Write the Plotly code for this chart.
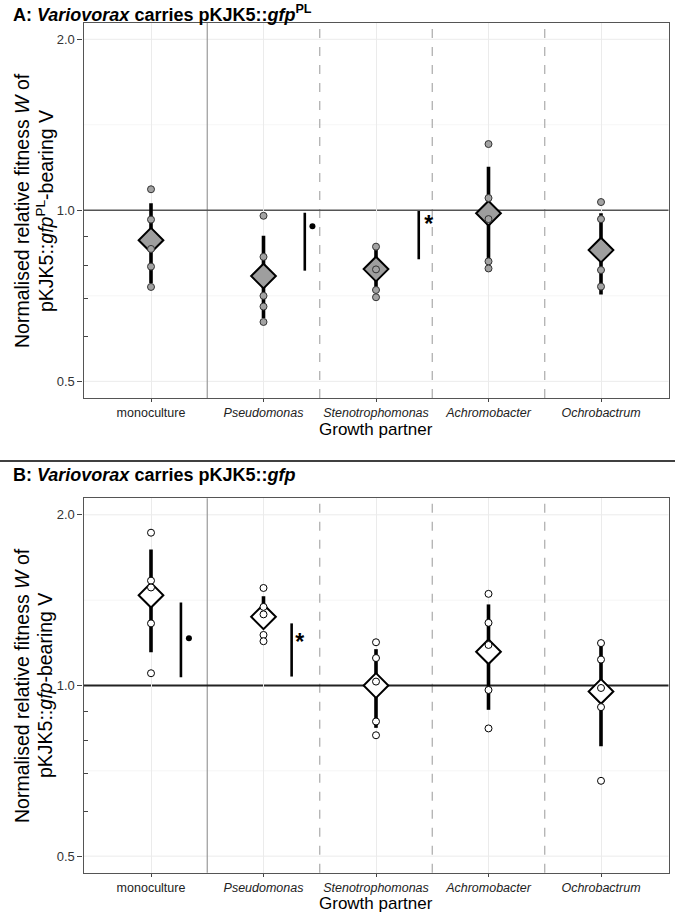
import plotly.graph_objects as go

# ---------------- data ----------------
categories = ["monoculture", "Pseudomonas", "Stenotrophomonas", "Achromobacter", "Ochrobactrum"]
tick_labels = ["monoculture", "<i>Pseudomonas</i>", "<i>Stenotrophomonas</i>", "<i>Achromobacter</i>", "<i>Ochrobactrum</i>"]

# Panel A: Variovorax carries pKJK5::gfpPL
a_reps = [
    [1.089, 0.963, 0.855, 0.796, 0.733],
    [0.978, 0.828, 0.707, 0.677, 0.636],
    [0.863, 0.787, 0.724, 0.703],
    [1.308, 1.051, 0.965, 0.813, 0.790],
    [1.034, 0.965, 0.785, 0.734],
]
a_mean = [0.886, 0.766, 0.788, 0.988, 0.851]
a_upper = [1.029, 0.902, 0.859, 1.193, 0.988]
a_lower = [0.744, 0.646, 0.724, 0.780, 0.711]
# significance brackets
a_sig_cat = [1, 2]
a_sig_low = [0.783, 0.820]
a_sig_high = [0.990, 0.997]
a_sig_mark = ["dot", "*"]
a_sig_mark_y = [0.937, 0.936]

# Panel B: Variovorax carries pKJK5::gfp
b_reps = [
    [1.860, 1.531, 1.489, 1.287, 1.051],
    [1.486, 1.376, 1.335, 1.228, 1.197],
    [1.192, 1.118, 1.016, 0.864, 0.817],
    [1.451, 1.290, 1.179, 0.982, 0.840],
    [1.188, 1.111, 0.990, 0.916, 0.679],
]
b_mean = [1.443, 1.322, 1.000, 1.147, 0.976]
b_upper = [1.738, 1.437, 1.159, 1.390, 1.188]
b_lower = [1.145, 1.269, 0.842, 0.906, 0.781]
b_sig_cat = [0, 1]
b_sig_low = [1.034, 1.037]
b_sig_high = [1.401, 1.287]
b_sig_mark = ["dot", "*"]
b_sig_mark_y = [1.211, 1.184]

y_tick_vals = [0.5, 1.0, 2.0]
y_tick_text = ["0.5", "1.0", "2.0"]
y_minor_ticks = [0.6, 0.7, 0.8, 0.9]
y_major_grid = [0.5, 2.0]
y_minor_grid = [0.7071, 1.4142]

# ---------------- layout helpers ----------------
W, H = 675, 918
FONT = "Liberation Sans, Arial, Helvetica, sans-serif"
x_pos = list(range(len(categories)))


def py(px):  # pixel from top -> paper fraction
    return 1 - px / H


def px_x(px):
    return px / W


fig = go.Figure()

panels = [
    dict(xa="x", ya="y", reps=a_reps, mean=a_mean, up=a_upper, lo=a_lower,
         sig_cat=a_sig_cat, sig_low=a_sig_low, sig_high=a_sig_high, sig_mark=a_sig_mark,
         sig_mark_y=a_sig_mark_y, fill="#a3a3a3", mfill="#9e9e9e", ptline="#333333",
         sig_off=[0.367, 0.38], mark_off=[0.435, 0.469]),
    dict(xa="x2", ya="y2", reps=b_reps, mean=b_mean, up=b_upper, lo=b_lower,
         sig_cat=b_sig_cat, sig_low=b_sig_low, sig_high=b_sig_high, sig_mark=b_sig_mark,
         sig_mark_y=b_sig_mark_y, fill="white", mfill="white", ptline="black",
         sig_off=[0.266, 0.25], mark_off=[0.337, 0.323]),
]

for p in panels:
    fig.add_trace(go.Scatter(
        x=x_pos, y=p["mean"], mode="markers", xaxis=p["xa"], yaxis=p["ya"],
        marker=dict(symbol="diamond", size=19, color=p["mfill"], line=dict(color="black", width=2)),
        error_y=dict(type="data", symmetric=False,
                     array=[u - m for u, m in zip(p["up"], p["mean"])],
                     arrayminus=[m - l for m, l in zip(p["mean"], p["lo"])],
                     thickness=3.6, width=0, color="black"),
        showlegend=False, hoverinfo="skip"))
    xs, ys = [], []
    for i, r in enumerate(p["reps"]):
        xs += [x_pos[i]] * len(r)
        ys += r
    fig.add_trace(go.Scatter(
        x=xs, y=ys, mode="markers", xaxis=p["xa"], yaxis=p["ya"],
        marker=dict(symbol="circle", size=7, color=p["fill"], line=dict(color=p["ptline"], width=1)),
        showlegend=False, hoverinfo="skip"))
    for k, c in enumerate(p["sig_cat"]):
        xx = x_pos[c] + p["sig_off"][k]
        fig.add_trace(go.Scatter(
            x=[xx, xx], y=[p["sig_low"][k], p["sig_high"][k]], mode="lines",
            xaxis=p["xa"], yaxis=p["ya"], line=dict(color="black", width=2.6),
            showlegend=False, hoverinfo="skip"))
        mx = x_pos[c] + p["mark_off"][k]
        if p["sig_mark"][k] == "dot":
            fig.add_trace(go.Scatter(
                x=[mx], y=[p["sig_mark_y"][k]], mode="markers", xaxis=p["xa"], yaxis=p["ya"],
                marker=dict(size=6, color="black"), showlegend=False, hoverinfo="skip"))
        else:
            fig.add_trace(go.Scatter(
                x=[mx], y=[p["sig_mark_y"][k]], mode="text", text=["<b>*</b>"],
                textfont=dict(size=23, color="black", family=FONT), textposition="middle center",
                xaxis=p["xa"], yaxis=p["ya"], showlegend=False, hoverinfo="skip"))

# ---------------- axes ----------------
x_dom = [px_x(83.5), px_x(668.5)]
yA_dom = [py(397.9), py(22.7)]
yB_dom = [py(872.7), py(498.3)]
yrange = [-0.3302, 0.3302]

xaxis_common = dict(
    range=[-0.6, 4.6], tickvals=x_pos, ticktext=tick_labels, showgrid=True,
    gridcolor="#ebebeb", gridwidth=1, zeroline=False, showline=True, mirror=True,
    linecolor="#555555", linewidth=1.2, ticks="outside", ticklen=3, tickcolor="#444444",
    tickfont=dict(family=FONT, size=12.5, color="#222222"), domain=x_dom, automargin=False,
)
yaxis_common = dict(
    type="log", range=yrange, tickvals=y_tick_vals, ticktext=y_tick_text, showgrid=False,
    zeroline=False, showline=True, mirror=True,
    linecolor="#555555", linewidth=1.2, ticks="outside", ticklen=5, tickcolor="#444444",
    tickfont=dict(family=FONT, size=13, color="#333333"), automargin=False,
    minor=dict(tickmode="array", tickvals=y_minor_ticks, ticks="inside", ticklen=4,
               tickcolor="#444444", showgrid=False),
)

fig.update_layout(
    template="none",
    width=W, height=H, margin=dict(l=0, r=0, t=0, b=0, pad=0),
    paper_bgcolor="white", plot_bgcolor="white",
    font=dict(family=FONT, color="black"),
    xaxis=dict(**xaxis_common, anchor="y"),
    yaxis=dict(**yaxis_common, domain=yA_dom, anchor="x"),
    xaxis2=dict(**xaxis_common, anchor="y2"),
    yaxis2=dict(**yaxis_common, domain=yB_dom, anchor="x2"),
)

# ---------------- shapes ----------------
shapes = []
for xa, ya, hcol, hw in [("x", "y", "#555555", 1.5), ("x2", "y2", "#222222", 2.0)]:
    for g in y_major_grid:
        shapes.append(dict(type="line", xref=f"{xa} domain", yref=ya, x0=0, x1=1, y0=g, y1=g,
                           line=dict(color="#ebebeb", width=1), layer="below"))
    for g in y_minor_grid:
        shapes.append(dict(type="line", xref=f"{xa} domain", yref=ya, x0=0, x1=1, y0=g, y1=g,
                           line=dict(color="#f2f2f2", width=0.8), layer="below"))
    shapes.append(dict(type="line", xref=xa, yref=f"{ya} domain", x0=0.5, x1=0.5, y0=0, y1=1,
                       line=dict(color="#9a9a9a", width=1.2), layer="below"))
    for b in [1.5, 2.5, 3.5]:
        shapes.append(dict(type="line", xref=xa, yref=f"{ya} domain", x0=b, x1=b, y0=0, y1=1,
                           line=dict(color="#aaaaaa", width=1.2, dash="dash"), layer="below"))
    shapes.append(dict(type="line", xref=f"{xa} domain", yref=ya, x0=0, x1=1, y0=1, y1=1,
                       line=dict(color=hcol, width=hw), layer="below"))
shapes.append(dict(type="line", xref="paper", yref="paper", x0=0, x1=1, y0=py(461), y1=py(461),
                   line=dict(color="black", width=1.5)))
fig.update_layout(shapes=shapes)

# ---------------- text ----------------
ann = []
ann.append(dict(text="<b>A: <i>Variovorax</i> carries pKJK5::<i>gfp</i><sup>PL</sup></b>",
                x=px_x(11), y=py(13), xref="paper", yref="paper", xanchor="left", yanchor="middle",
                showarrow=False, font=dict(size=18, family=FONT, color="black")))
ann.append(dict(text="<b>B: <i>Variovorax</i> carries pKJK5::<i>gfp</i></b>",
                x=px_x(11), y=py(475), xref="paper", yref="paper", xanchor="left", yanchor="middle",
                showarrow=False, font=dict(size=18, family=FONT, color="black")))
ytitle_line1 = "Normalised relative fitness <i>W</i> of"
ytitle_A2 = "pKJK5::<i>gfp</i><sup>PL</sup>-bearing V"
ytitle_B2 = "pKJK5::<i>gfp</i>-bearing V"
for cy, l2 in [(211, ytitle_A2), (686, ytitle_B2)]:
    ann.append(dict(text=ytitle_line1, x=px_x(22), y=py(cy), xref="paper", yref="paper",
                    xanchor="center", yanchor="middle", textangle=-90, showarrow=False,
                    font=dict(size=19.5, family=FONT, color="black")))
    ann.append(dict(text=l2, x=px_x(45), y=py(cy), xref="paper", yref="paper",
                    xanchor="center", yanchor="middle", textangle=-90, showarrow=False,
                    font=dict(size=19.5, family=FONT, color="black")))
for yy in [429, 903]:
    ann.append(dict(text="Growth partner", x=(x_dom[0] + x_dom[1]) / 2, y=py(yy), xref="paper", yref="paper",
                    xanchor="center", yanchor="middle", showarrow=False,
                    font=dict(size=17, family=FONT, color="black")))
fig.update_layout(annotations=ann)

fig.write_html("out.html", config={"displayModeBar": False},
               post_script="document.body.style.margin='0px';")
